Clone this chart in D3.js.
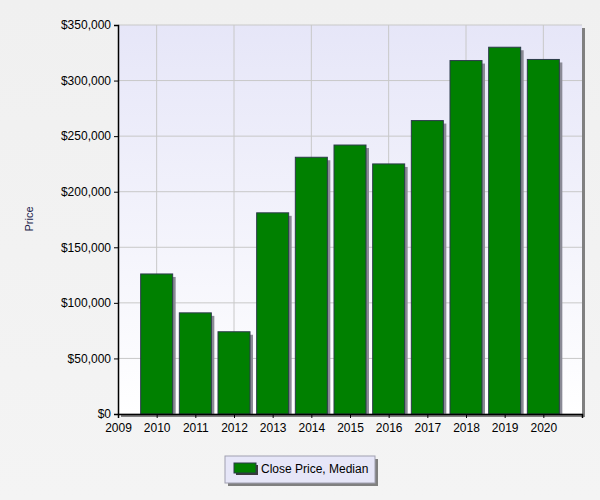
<!DOCTYPE html>
<html><head><meta charset="utf-8">
<script src="https://cdn.jsdelivr.net/npm/d3@7"></script>
<style>body{margin:0;}svg{display:block;font-family:"DejaVu Sans",sans-serif;}</style>
</head><body>
<svg id="chart" width="600" height="500"></svg>
<script>
// data
const years = [2010, 2011, 2012, 2013, 2014, 2015, 2016, 2017, 2018, 2019, 2020];
const medianPrice = [126000, 91000, 74000, 181000, 231000, 242000, 225000, 264000, 318000, 330000, 319000];
const yTicks = [0, 50000, 100000, 150000, 200000, 250000, 300000, 350000];
const xTicks = [2009, 2010, 2011, 2012, 2013, 2014, 2015, 2016, 2017, 2018, 2019, 2020];
const seriesName = "Close Price, Median";

var svg = d3.select("#chart");
var defs = svg.append("defs");
var bg = defs.append("linearGradient").attr("id", "bg").attr("x1", 0).attr("y1", 0).attr("x2", 0).attr("y2", 1);
bg.append("stop").attr("offset", 0).attr("stop-color", "#f0f0f0");
bg.append("stop").attr("offset", 1).attr("stop-color", "#f4f4f4");
var pg = defs.append("linearGradient").attr("id", "pg").attr("x1", 0).attr("y1", 0).attr("x2", 0).attr("y2", 1);
pg.append("stop").attr("offset", 0).attr("stop-color", "#e6e6f8");
pg.append("stop").attr("offset", 1).attr("stop-color", "#ffffff");

svg.append("rect").attr("width", 600).attr("height", 500).attr("fill", "url(#bg)");

const L = 118, R = 582, T = 25, B = 414;
var x = d3.scaleLinear().domain([2009, 2021]).range([L, R]);
var y = d3.scaleLinear().domain([0, 350000]).range([B, T]);

// plot shadow + area
svg.append("rect").attr("x", L + 3).attr("y", T + 3).attr("width", R - L).attr("height", B - T).attr("fill", "#808080");
svg.append("rect").attr("x", L).attr("y", T).attr("width", R - L).attr("height", B - T).attr("fill", "url(#pg)");

// grid
svg.append("g").selectAll("line").data(yTicks).join("line")
  .attr("x1", L).attr("x2", R).attr("y1", d => y(d)).attr("y2", d => y(d))
  .attr("stroke", "#c8c8c8");
svg.append("g").selectAll("line").data(xTicks.filter(d => d % 2 == 0)).join("line")
  .attr("x1", d => x(d)).attr("x2", d => x(d)).attr("y1", T).attr("y2", B)
  .attr("stroke", "#c8c8c8");

// bars
const bw = 32;
svg.append("g").selectAll("rect").data(years).join("rect")
  .attr("x", d => x(d) - bw / 2 + 3).attr("y", (d, i) => y(medianPrice[i]) + 3)
  .attr("width", bw).attr("height", (d, i) => B - y(medianPrice[i]) - 3)
  .attr("fill", "#8a8a95");
svg.append("g").selectAll("rect").data(years).join("rect")
  .attr("x", d => x(d) - bw / 2).attr("y", (d, i) => y(medianPrice[i]))
  .attr("width", bw).attr("height", (d, i) => B - y(medianPrice[i]))
  .attr("fill", "#008000").attr("stroke", "#2b3a4a").attr("stroke-width", 1);

// axes
var ya = svg.append("g").attr("transform", `translate(${L},0)`)
  .call(d3.axisLeft(y).tickValues(yTicks).tickSize(4).tickFormat(d => "$" + d3.format(",")(d)));
var xa = svg.append("g").attr("transform", `translate(0,${B})`)
  .call(d3.axisBottom(x).tickValues(xTicks).tickSize(4).tickFormat(d3.format("d")));
[ya, xa].forEach(a => {
  a.selectAll("text").attr("fill", "#000").style("font-size", "12px").style("font-family", "Liberation Sans, Arial, sans-serif");
  a.selectAll("line").attr("stroke", "#000");
  a.select(".domain").attr("stroke", "#000").attr("stroke-width", 1.5);
});
xa.selectAll("text").attr("dy", "0.9em");

svg.append("text").attr("transform", "translate(33,219) rotate(-90)").attr("text-anchor", "middle")
  .style("font-size", "11px").style("font-family", "Liberation Sans, Arial, sans-serif").attr("fill", "#1a1a4a").text("Price");

// legend
svg.append("rect").attr("x", 228).attr("y", 459).attr("width", 150).attr("height", 27).attr("fill", "#808080");
svg.append("rect").attr("x", 225).attr("y", 456).attr("width", 150).attr("height", 27).attr("fill", "#e6e6f8").attr("stroke", "#a0a0b0");
svg.append("rect").attr("x", 236).attr("y", 465).attr("width", 22).attr("height", 10).attr("fill", "#3a3a3a");
svg.append("rect").attr("x", 234).attr("y", 463).attr("width", 22).attr("height", 10).attr("fill", "#008000").attr("stroke", "#2b3a4a");
svg.append("text").attr("x", 261).attr("y", 473).style("font-size", "12px")
  .style("font-family", "Liberation Sans, Arial, sans-serif").text(seriesName);
</script>
</body></html>
